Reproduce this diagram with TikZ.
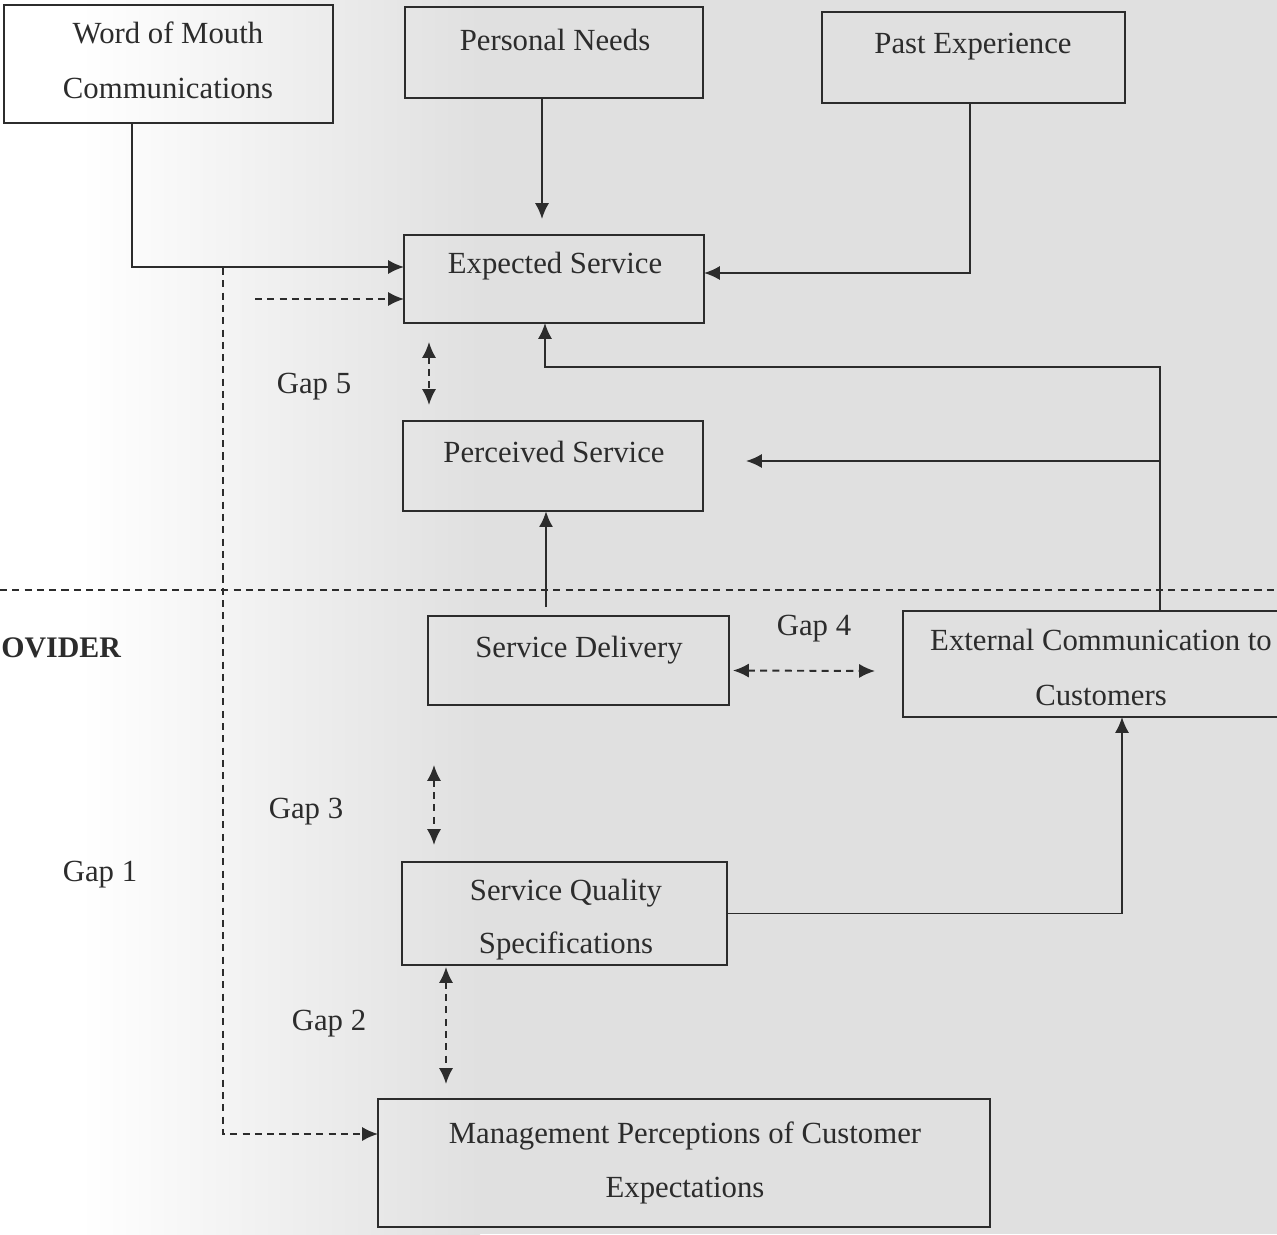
\documentclass[tikz,border=0pt]{standalone}
\usepackage{fontspec}
\setmainfont{Liberation Serif}
\usetikzlibrary{arrows.meta,fit,calc}
\definecolor{ink}{HTML}{2C2C2C}
\definecolor{paper}{HTML}{E0E0E0}
\begin{document}
\begin{tikzpicture}[x=0.02cm,y=-0.02cm,
  box/.style={draw=ink, line width=1.1pt, inner sep=0pt, outer sep=0pt, rectangle},
  txt/.style={text=ink, font=\fontsize{17.5}{31}\selectfont, inner sep=0pt, anchor=base},
  tip/.tip={Latex[length=9pt,width=8pt]},
  conn/.style={draw=ink, line width=1.1pt, -tip},
  gapline/.style={draw=ink, line width=1.1pt, dash pattern=on 4pt off 3pt},
  gaparrow/.style={gapline, tip-tip},
]
\useasboundingbox (0,0) rectangle (1277,1234);
\clip (0,0) rectangle (1277,1234);
% paper background
\fill[white] (0,0) rectangle (80,1234);
\shade[left color=white, right color=paper] (80,0) rectangle (480,1234);
\fill[paper] (480,0) rectangle (1277,1234);

% boxes
\node[box, fit={(4,5) (333,123)}] (wom) {};
\node[txt] (womt1) at (168,43) {Word of Mouth};
\node[txt] (womt2) at (168,98) {Communications};

\node[box, fit={(405,7) (703,98)}] (pn) {};
\node[txt] (pnt) at (555,50) {Personal Needs};

\node[box, fit={(822,12) (1125,103)}] (pe) {};
\node[txt] (pet) at (973,53) {Past Experience};

\node[box, fit={(404,235) (704,323)}] (es) {};
\node[txt] (est) at (555,273) {Expected Service};

\node[box, fit={(403,421) (703,511)}] (ps) {};
\node[txt] (pst) at (554,462) {Perceived Service};

\node[box, fit={(428,616) (729,705)}] (sd) {};
\node[txt] (sdt) at (579,657) {Service Delivery};

\node[box, fit={(903,611) (1300,717)}] (ec) {};
\node[txt] (ect1) at (1101,650) {External Communication to};
\node[txt] (ect2) at (1101,705) {Customers};

\node[box, fit={(402,862) (727,965)}] (sq) {};
\node[txt] (sqt1) at (566,900) {Service Quality};
\node[txt] (sqt2) at (566,953) {Specifications};

\node[box, fit={(378,1099) (990,1227)}] (mp) {};
\node[txt] (mpt1) at (685,1143) {Management Perceptions of Customer};
\node[txt] (mpt2) at (685,1197) {Expectations};

% labels
\node[txt] (g5) at (314,393) {Gap 5};
\node[txt] (g4) at (814,635) {Gap 4};
\node[txt] (g3) at (306,818) {Gap 3};
\node[txt] (g1) at (100,881) {Gap 1};
\node[txt] (g2) at (329,1030) {Gap 2};
\node[txt, anchor=base west, font=\fontsize{17}{31}\selectfont\bfseries] (prov) at (1,657) {OVIDER};

% divider
\coordinate (dl) at (0,590);
\coordinate (dr) at (1277,590);
\draw[gapline] (dl) -- (dr);

% solid connectors
\draw[conn] ($(wom.south west)+(128,0)$) |- ($(es.west)+(0,-12)$);
\coordinate (pnx) at ($(pn.south west)+(137,0)$);
\draw[conn] (pnx) -- ($(pnx |- es.north)+(0,-16)$);
\draw[conn] ($(pe.south west)+(148,0)$) |- ($(es.east)+(0,-6)$);
\coordinate (ecx) at ($(ec.north west)+(257,0)$);
\draw[conn] (ecx) |- ($(es.south west)+(141,44)$) -- ($(es.south west)+(141,0)$);
\coordinate (ecb) at ($(ecx)+(0,-150)$);
\draw[conn] (ecb) -- ($(ecb -| ps.east)+(43,0)$);
\coordinate (sdx) at ($(sd.north west)+(118,0)$);
\draw[conn, line width=1.6pt] ($(sdx)+(0,-9)$) -- (sdx |- ps.south);
\draw[conn] (sq.east) -| ($(ec.south west)+(219,0)$);

% dashed connectors
\coordinate (d0) at (255,299);
\draw[gapline, -tip] (d0) -- (d0 -| es.west);
\draw[gapline, -tip] ($(wom.south west)+(219,145)$) |- ($(mp.west)+(0,-29)$);

% gap arrows
\draw[gaparrow] ($(es.south west)+(25,19)$) -- ($(ps.north west)+(26,-16)$);
\draw[gaparrow] ($(sd.east)+(4,10)$) -- ($(ec.west)+(-28,7)$);
\draw[gaparrow] ($(sd.south west)+(6,60)$) -- ($(sq.north west)+(32,-17)$);
\draw[gaparrow] ($(sq.south west)+(44,2)$) -- ($(mp.north west)+(68,-15)$);
\end{tikzpicture}
\end{document}
